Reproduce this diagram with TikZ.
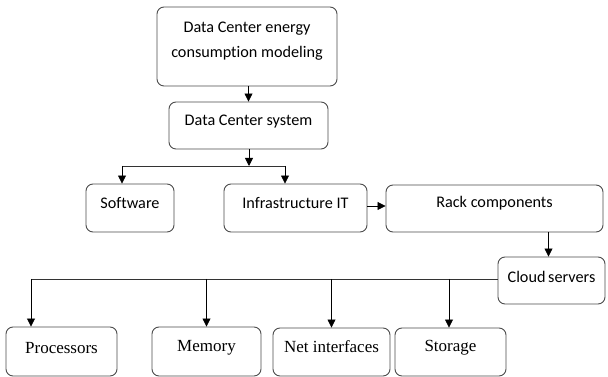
\documentclass[tikz,border=0pt]{standalone}
\usepackage{fontspec}
\setmainfont{Liberation Serif}
\newfontfamily\calib[Ligatures={NoCommon}]{Carlito}
\usetikzlibrary{arrows.meta,calc}
\tikzset{
  box/.style={draw=black!70, line width=0.9pt, rounded corners=7pt, fill=white, inner sep=0pt},
  lblA/.style={font=\calib\fontsize{16.2}{19}\selectfont, inner sep=0pt, align=center},
  lblB/.style={font=\fontsize{17}{20}\selectfont, inner sep=0pt},
  arr/.style={draw=black, line width=0.8pt, -{Triangle[length=8pt,width=8pt]}},
  ln/.style={draw=black!80, line width=0.8pt}
}
\begin{document}
\begin{tikzpicture}[x=1pt,y=1pt]
\useasboundingbox (0,0) rectangle (608,377);
% boxes
\node[box, minimum width=180pt, minimum height=79pt] (top) at (247,330.5) {};
\node[box, minimum width=159pt, minimum height=47pt] (sys) at (248.5,251.5) {};
\node[box, minimum width=88pt, minimum height=48pt] (soft) at (130,169) {};
\node[box, minimum width=143pt, minimum height=48pt] (infra) at (295.5,169) {};
\node[box, minimum width=217pt, minimum height=47pt] (rack) at (494.5,168.5) {};
\node[box, minimum width=107pt, minimum height=47pt] (cloud) at (551.5,96.5) {};
\node[box, minimum width=111pt, minimum height=49pt] (proc) at (61.5,25.5) {};
\node[box, minimum width=109pt, minimum height=49pt] (mem) at (206.5,25.5) {};
\node[box, minimum width=117pt, minimum height=48pt] (net) at (331.5,25) {};
\node[box, minimum width=111pt, minimum height=48pt] (stor) at (450.5,25) {};
% texts
\node[lblA] (ttop1) at (247,348) {Data Center energy};
\node[lblA] (ttop2) at (247,324) {consumption modeling};
\node[lblA] (tsys) at (248.5,255) {Data Center system};
\node[lblA] (tsoft) at (130,174) {Software};
\node[lblA] (tinfra) at (295.5,174) {Infrastructure IT};
\node[lblA] (track) at (494.5,174) {Rack components};
\node[lblA] (tcloud) at (551.5,100) {Cloud\,servers};
\node[lblB] (tproc) at (61.5,29) {Processors};
\node[lblB] (tmem) at (206.5,29) {Memory};
\node[lblB] (tnet) at (331.5,30) {Net interfaces};
\node[lblB] (tstor) at (450.5,29) {Storage};
% connectors
\draw[arr] (sys.north |- top.south) -- (sys.north);
\coordinate (j1) at (249,211);
\draw[arr] (sys.south -| j1) -- (j1);
\draw[ln] ([xshift=-8pt]soft.north |- j1) -- ([xshift=-10.5pt]infra.north |- j1);
\draw[arr] ([xshift=-8pt]soft.north |- j1) -- ([xshift=-8pt]soft.north);
\draw[arr] ([xshift=-10.5pt]infra.north |- j1) -- ([xshift=-10.5pt]infra.north);
\draw[arr] ([yshift=2pt]infra.east) -- ([yshift=2pt]infra.east -| rack.west);
\draw[arr] ([xshift=-3pt]cloud.north |- rack.south) -- ([xshift=-3pt]cloud.north);
\coordinate (hl) at ([yshift=1.5pt]cloud.west);
\draw[ln] (hl) -- ([xshift=-30.5pt]proc.north |- hl);
\draw[arr] ([xshift=-30.5pt]proc.north |- hl) -- ([xshift=-30.5pt]proc.north);
\draw[arr] (mem.north |- hl) -- (mem.north);
\draw[arr] (net.north |- hl) -- (net.north);
\draw[arr] ([xshift=-1.5pt]stor.north |- hl) -- ([xshift=-1.5pt]stor.north);
\end{tikzpicture}
\end{document}
